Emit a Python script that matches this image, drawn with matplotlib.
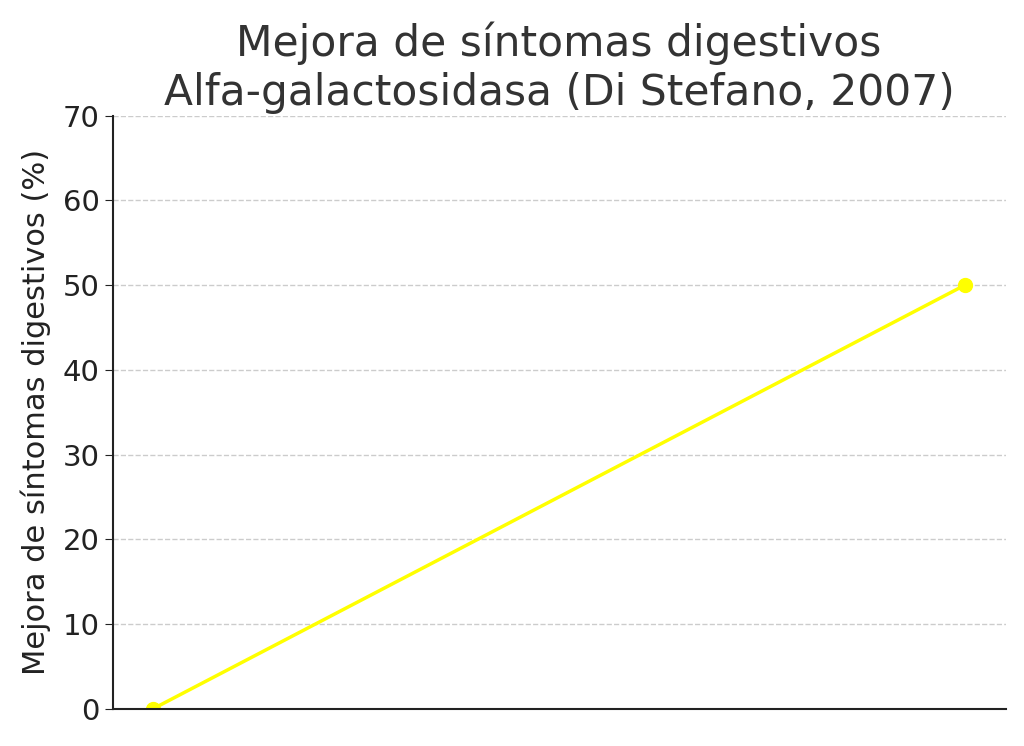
import matplotlib as mpl
mpl.use("Agg")
import matplotlib.pyplot as plt

# Data
groups = ["Antes", "Después"]
mejora = [0, 50]

fig, ax = plt.subplots(figsize=(10.24, 7.46), dpi=100)
ax.plot(range(len(groups)), mejora, color="#FFFF00", linewidth=2.5, marker="o", markersize=10)

ax.set_title("Mejora de síntomas digestivos\nAlfa-galactosidasa (Di Stefano, 2007)",
             fontsize=30.5, color="#333333", pad=8)
ax.set_ylabel("Mejora de síntomas digestivos (%)", fontsize=22, color="#222222", labelpad=8)
ax.set_ylim(0, 70)
ax.set_yticks(range(0, 71, 10))
ax.set_xticks([])
ax.tick_params(axis="y", labelsize=21, colors="#222222", length=6)
ax.spines["top"].set_visible(False)
ax.spines["right"].set_visible(False)
for s in ("left", "bottom"):
    ax.spines[s].set_linewidth(1.5)
    ax.spines[s].set_color("#222222")
ax.grid(True, axis="y", linestyle="--", color="#cccccc", linewidth=1)
ax.set_axisbelow(True)

fig.subplots_adjust(left=0.11, right=0.982, top=0.845, bottom=0.05)
fig.savefig("out.png", dpi=100)
